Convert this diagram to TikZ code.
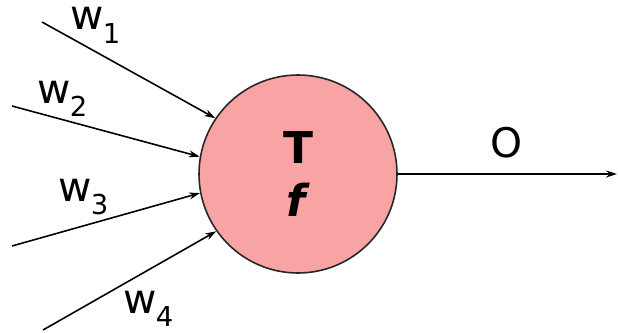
\documentclass[tikz,border=0pt]{standalone}
\usepackage{fontspec}
\setmainfont{DejaVu Sans}
\usepackage{tikz}
\usetikzlibrary{positioning, arrows.meta}

\definecolor{cellpink}{RGB}{249,164,164}
\newcommand{\wlab}[1]{w\kern-0.03em\raisebox{-0.34em}{\fontsize{7.8}{9}\selectfont #1}}

\begin{document}
\begin{tikzpicture}[x=0.1mm, y=-0.1mm,
    neuron/.style={circle, draw=black!85, line width=0.45pt, fill=cellpink, minimum size=19.8mm, inner sep=0pt, align=center, font=\bfseries\fontsize{12.5}{15}\selectfont},
    wire/.style={line width=0.45pt, -{Stealth[length=1.1mm, width=0.7mm]}},
    lab/.style={inner sep=0pt, font=\fontsize{11.6}{13}\selectfont}]
    \useasboundingbox (0,0) rectangle (618,332);

    \node [neuron] (n) at (298,174) {T\\\textit{f}};

    \coordinate (in1) at (42,22);
    \coordinate (in2) at (12,106);
    \coordinate (in3) at (12,246);
    \coordinate (in4) at (43,330);
    \coordinate (out) at (617,174);

    \draw [wire] (in1) -- (n.146);
    \draw [wire] (in2) -- (n.170);
    \draw [wire] (in3) -- (n.191);
    \draw [wire] (in4) -- (n.215);
    \draw [wire] (n.east) -- (out);

    \node [lab, anchor=base west] (l1) at (70,30) {\wlab{1}};
    \node [lab, anchor=base west] (l2) at (37,103) {\wlab{2}};
    \node [lab, anchor=base west] (l3) at (58,201) {\wlab{3}};
    \node [lab, anchor=base west] (l4) at (123,313) {\wlab{4}};
    \node [lab, anchor=base] (lo) at (507,158) {O};
\end{tikzpicture}
\end{document}
